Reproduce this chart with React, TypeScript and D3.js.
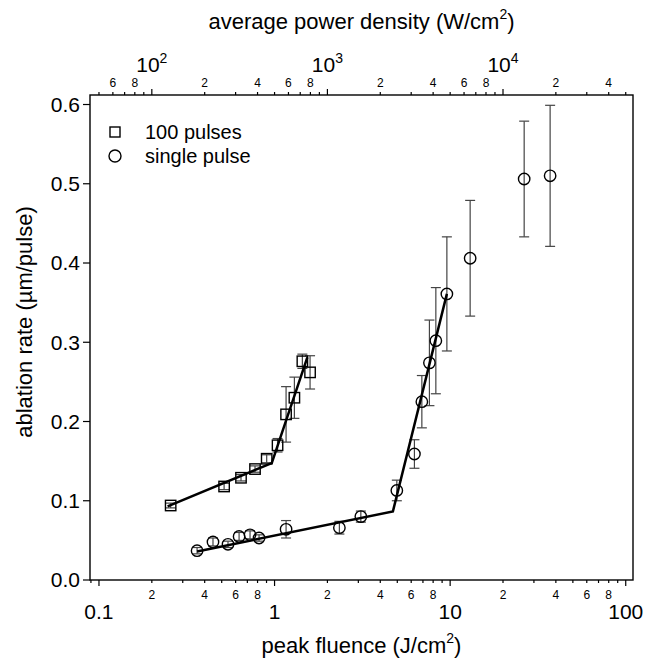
import React, { useEffect, useRef } from 'react';
import * as d3 from 'd3';

// 100 pulses (squares)
const multiFluence = [0.256, 0.516, 0.644, 0.774, 0.902, 1.04, 1.163, 1.297, 1.44, 1.593];
const multiRate = [0.094, 0.118, 0.129, 0.14, 0.153, 0.17, 0.209, 0.23, 0.276, 0.262];
const multiErr = [0.003, 0.004, 0.004, 0.004, 0.005, 0.0085, 0.035, 0.026, 0.009, 0.021];

// single pulse (circles)
const singleFluence = [0.362, 0.446, 0.543, 0.628, 0.725, 0.816, 1.163, 2.34, 3.1, 4.97, 6.26, 6.9, 7.62, 8.29, 9.58, 13.0, 26.4, 37.1];
const singleRate = [0.037, 0.048, 0.045, 0.055, 0.057, 0.053, 0.064, 0.066, 0.08, 0.113, 0.159, 0.225, 0.274, 0.302, 0.361, 0.406, 0.506, 0.51];
const singleErr = [0.004, 0.005, 0.004, 0.005, 0.005, 0.004, 0.011, 0.008, 0.007, 0.013, 0.018, 0.033, 0.054, 0.067, 0.072, 0.073, 0.073, 0.089];

// piecewise linear fits
const multiFitFluence = [0.246, 0.964, 1.537];
const multiFitRate = [0.093, 0.1475, 0.281];
const singleFitFluence = [0.362, 4.72, 9.58];
const singleFitRate = [0.036, 0.0865, 0.361];

const yTicks = [0, 0.1, 0.2, 0.3, 0.4, 0.5, 0.6];
const powerPerFluence = 500; // W/cm^2 per J/cm^2

const FONT = '"Liberation Sans", Arial, sans-serif';

const App = () => {
  const ref = useRef<SVGSVGElement>(null);

  useEffect(() => {
    if (!ref.current) return;
    const svg = d3.select(ref.current);
    svg.selectAll('*').remove();

    const left = 90, right = 633, top = 95, bottom = 580;

    const x = d3.scaleLog().domain([0.0889, 110]).range([left, right]);
    const xTop = d3.scaleLog()
      .domain([0.0889 * powerPerFluence, 110 * powerPerFluence])
      .range([left, right]);
    const y = d3.scaleLinear().domain([0, 0.612]).range([bottom, top]);

    const g = svg.append('g').style('font-family', FONT);

    // frame
    g.append('rect')
      .attr('x', left).attr('y', top)
      .attr('width', right - left).attr('height', bottom - top)
      .attr('fill', 'none').attr('stroke', '#000').attr('stroke-width', 1.4);

    const mantissa = (t: number) => Math.round(t / Math.pow(10, Math.floor(Math.log10(t) + 1e-9)));

    // bottom axis
    const bt = x.ticks().filter(t => t >= 0.0889 && t <= 110);
    bt.forEach(t => {
      const m = mantissa(t);
      const px = x(t);
      g.append('line')
        .attr('x1', px).attr('x2', px)
        .attr('y1', bottom).attr('y2', bottom + (m === 1 ? 6 : 3))
        .attr('stroke', '#000').attr('stroke-width', 1.2);
      if (m === 1) {
        g.append('text').attr('x', px).attr('y', 619)
          .attr('text-anchor', 'middle').attr('font-size', 21)
          .text(t < 1 ? d3.format('.1f')(t) : String(Math.round(t)));
      } else if (m % 2 === 0) {
        g.append('text').attr('x', px).attr('y', 599)
          .attr('text-anchor', 'middle').attr('font-size', 12)
          .text(String(m));
      }
    });

    // top axis
    const tt = xTop.ticks().filter(t => t >= 44.4 && t <= 55000);
    tt.forEach(t => {
      const m = mantissa(t);
      const px = xTop(t);
      g.append('line')
        .attr('x1', px).attr('x2', px)
        .attr('y1', top).attr('y2', top - (m === 1 ? 6 : 3))
        .attr('stroke', '#000').attr('stroke-width', 1.2);
      if (m === 1) {
        const exp = Math.round(Math.log10(t));
        const txt = g.append('text').attr('x', px).attr('y', 72)
          .attr('text-anchor', 'middle').attr('font-size', 21);
        txt.append('tspan').text('10');
        txt.append('tspan').attr('font-size', 14).attr('dy', -9).text(String(exp));
      } else if (m % 2 === 0) {
        g.append('text').attr('x', px).attr('y', 87)
          .attr('text-anchor', 'middle').attr('font-size', 12)
          .text(String(m));
      }
    });

    // left axis
    yTicks.forEach(t => {
      g.append('line')
        .attr('x1', left - 7).attr('x2', left)
        .attr('y1', y(t)).attr('y2', y(t))
        .attr('stroke', '#000').attr('stroke-width', 1.2);
      g.append('text').attr('x', 80).attr('y', y(t))
        .attr('dy', '0.35em').attr('text-anchor', 'end').attr('font-size', 21)
        .text(d3.format('.1f')(t));
    });

    // axis titles
    const bTitle = g.append('text').attr('x', (left + right) / 2).attr('y', 653)
      .attr('text-anchor', 'middle').attr('font-size', 22);
    bTitle.append('tspan').text('peak fluence (J/cm');
    bTitle.append('tspan').attr('font-size', 14).attr('dy', -10).text('2');
    bTitle.append('tspan').attr('dy', 10).text(')');

    const tTitle = g.append('text').attr('x', (left + right) / 2).attr('y', 29)
      .attr('text-anchor', 'middle').attr('font-size', 22);
    tTitle.append('tspan').text('average power density (W/cm');
    tTitle.append('tspan').attr('font-size', 14).attr('dy', -10).text('2');
    tTitle.append('tspan').attr('dy', 10).text(')');

    g.append('text')
      .attr('transform', `translate(32, 322) rotate(-90)`)
      .attr('text-anchor', 'middle').attr('font-size', 22)
      .text('ablation rate (µm/pulse)');

    // error bars
    const drawErr = (fl: number[], rate: number[], err: number[]) => {
      fl.forEach((f, i) => {
        const px = x(f);
        const y1 = y(rate[i] + err[i]);
        const y2 = y(rate[i] - err[i]);
        const eg = g.append('g').attr('stroke', '#444').attr('stroke-width', 1.2);
        eg.append('line').attr('x1', px).attr('x2', px).attr('y1', y1).attr('y2', y2);
        eg.append('line').attr('x1', px - 5).attr('x2', px + 5).attr('y1', y1).attr('y2', y1);
        eg.append('line').attr('x1', px - 5).attr('x2', px + 5).attr('y1', y2).attr('y2', y2);
      });
    };
    drawErr(multiFluence, multiRate, multiErr);
    drawErr(singleFluence, singleRate, singleErr);

    // fit lines
    const line = d3.line<[number, number]>().x(d => x(d[0])).y(d => y(d[1]));
    g.append('path')
      .attr('d', line(multiFitFluence.map((f, i) => [f, multiFitRate[i]] as [number, number])))
      .attr('fill', 'none').attr('stroke', '#000').attr('stroke-width', 2.5);
    g.append('path')
      .attr('d', line(singleFitFluence.map((f, i) => [f, singleFitRate[i]] as [number, number])))
      .attr('fill', 'none').attr('stroke', '#000').attr('stroke-width', 2.5);

    // markers
    multiFluence.forEach((f, i) => {
      g.append('rect')
        .attr('x', x(f) - 5.2).attr('y', y(multiRate[i]) - 5.2)
        .attr('width', 10.4).attr('height', 10.4)
        .attr('fill', 'none').attr('stroke', '#000').attr('stroke-width', 1.4);
    });
    singleFluence.forEach((f, i) => {
      g.append('circle')
        .attr('cx', x(f)).attr('cy', y(singleRate[i])).attr('r', 5.7)
        .attr('fill', 'none').attr('stroke', '#000').attr('stroke-width', 1.4);
    });

    // legend
    g.append('rect').attr('x', 110).attr('y', 127).attr('width', 10).attr('height', 10)
      .attr('fill', 'none').attr('stroke', '#000').attr('stroke-width', 1.4);
    g.append('text').attr('x', 145).attr('y', 132).attr('dy', '0.35em')
      .attr('font-size', 20).text('100 pulses');
    g.append('circle').attr('cx', 115).attr('cy', 156).attr('r', 6)
      .attr('fill', 'none').attr('stroke', '#000').attr('stroke-width', 1.4);
    g.append('text').attr('x', 145).attr('y', 156).attr('dy', '0.35em')
      .attr('font-size', 20).text('single pulse');
  }, []);

  return (
    <svg
      ref={ref}
      width={657}
      height={662}
      style={{ position: 'absolute', left: 0, top: 0, background: '#fff' }}
    />
  );
};

export default App;
